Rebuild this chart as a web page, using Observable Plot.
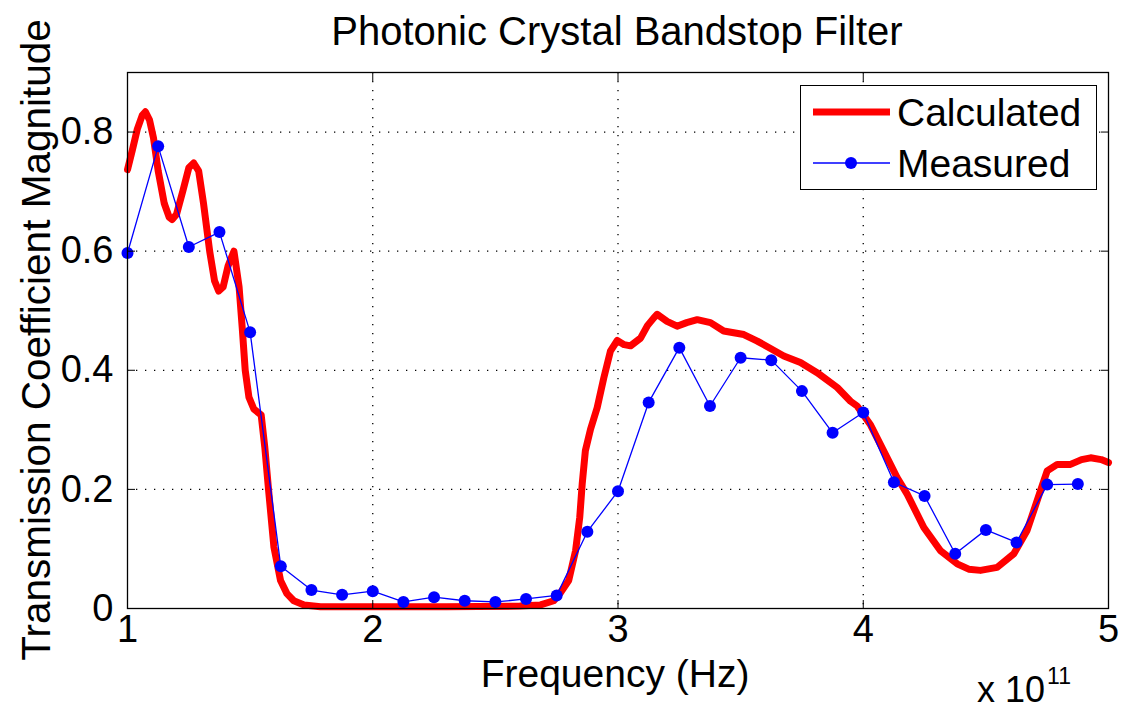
<!DOCTYPE html>
<html><head><meta charset="utf-8">
<script src="https://cdn.jsdelivr.net/npm/d3@7"></script>
<script src="https://cdn.jsdelivr.net/npm/@observablehq/plot@0.6"></script>
<style>
body{margin:0;background:#fff;font-family:"Liberation Sans",Arial,Helvetica,sans-serif}
#wrap{position:relative;width:1122px;height:711px;overflow:hidden}
.t{position:absolute;white-space:nowrap;color:#000;line-height:1}
</style></head>
<body><div id="wrap"></div>
<script>
const chartTitle = "Photonic Crystal Bandstop Filter";
const xLabel = "Frequency (Hz)";
const yLabel = "Transmission Coefficient Magnitude";
const seriesNames = ["Calculated", "Measured"];
const xTicks = [1, 2, 3, 4, 5];
const yTicks = [0, 0.2, 0.4, 0.6, 0.8];

// Calculated (red) curve, frequency in units of 1e11 Hz
const calcX = [1.000,1.020,1.040,1.060,1.073,1.090,1.106,1.125,1.150,1.170,1.182,1.200,1.225,1.250,1.270,1.290,1.310,1.335,1.355,1.372,1.390,1.410,1.434,1.455,1.468,1.480,1.495,1.515,1.545,1.560,1.575,1.597,1.624,1.650,1.678,1.720,1.787,2.000,2.300,2.600,2.684,2.738,2.766,2.799,2.827,2.844,2.854,2.867,2.888,2.915,2.942,2.969,2.997,3.025,3.051,3.092,3.120,3.146,3.160,3.200,3.241,3.280,3.323,3.377,3.431,3.513,3.568,3.620,3.676,3.744,3.812,3.894,3.948,3.975,4.030,4.111,4.138,4.179,4.247,4.315,4.383,4.430,4.478,4.546,4.614,4.668,4.709,4.750,4.791,4.845,4.890,4.927,4.970,5.000];
const calcY = [0.737,0.770,0.805,0.828,0.834,0.820,0.790,0.735,0.680,0.657,0.653,0.662,0.700,0.740,0.748,0.735,0.680,0.600,0.550,0.533,0.540,0.575,0.600,0.540,0.470,0.400,0.355,0.335,0.325,0.270,0.200,0.103,0.047,0.025,0.013,0.006,0.003,0.003,0.003,0.004,0.006,0.013,0.027,0.047,0.097,0.153,0.209,0.265,0.301,0.337,0.387,0.432,0.450,0.443,0.441,0.454,0.475,0.488,0.494,0.482,0.474,0.480,0.485,0.480,0.466,0.460,0.449,0.437,0.424,0.413,0.396,0.371,0.348,0.340,0.308,0.242,0.220,0.192,0.136,0.097,0.075,0.066,0.064,0.069,0.092,0.131,0.181,0.231,0.242,0.242,0.250,0.253,0.250,0.245];

// Measured (blue) points
const measX = [1.000,1.125,1.250,1.375,1.500,1.625,1.750,1.875,2.000,2.125,2.250,2.375,2.500,2.625,2.750,2.875,3.000,3.125,3.250,3.375,3.500,3.625,3.750,3.875,4.000,4.125,4.250,4.375,4.500,4.625,4.750,4.875];
const measY = [0.597,0.776,0.607,0.632,0.464,0.071,0.031,0.023,0.029,0.011,0.019,0.013,0.011,0.016,0.022,0.129,0.197,0.346,0.438,0.340,0.421,0.417,0.365,0.295,0.329,0.212,0.189,0.092,0.132,0.111,0.208,0.209];

const calc = calcX.map((x, i) => ({x, y: calcY[i]}));
const meas = measX.map((x, i) => ({x, y: measY[i]}));

const grid = {stroke: "#000", strokeOpacity: 1, strokeWidth: 1.3, strokeDasharray: "1.3,7.7"};
const font = "Liberation Sans, Arial, Helvetica, sans-serif";

const chart = Plot.plot({
  width: 1122, height: 711,
  marginTop: 72, marginRight: 14, marginBottom: 103, marginLeft: 127,
  x: {domain: [1, 5]},
  y: {domain: [0, 0.9]},
  style: {fontFamily: font, background: "transparent", color: "#000"},
  marks: [
    Plot.gridX(xTicks.slice(1, -1), grid),
    Plot.gridY(yTicks.slice(1), grid),
    Plot.line(calc, {x: "x", y: "y", stroke: "#ff0000", strokeWidth: 7, strokeLinejoin: "round"}),
    Plot.line(meas, {x: "x", y: "y", stroke: "#0000ff", strokeWidth: 1.3}),
    Plot.dot(meas, {x: "x", y: "y", r: 6, fill: "#0000ff", stroke: "none"}),
    Plot.frame({stroke: "#000", strokeWidth: 1.3}),
    Plot.axisX(xTicks, {anchor: "bottom", tickSize: -8, tickPadding: 15, fontSize: 38, label: null, tickFormat: d => String(d)}),
    Plot.axisX(xTicks, {anchor: "top", tickSize: -8, text: null, label: null}),
    Plot.axisY(yTicks, {anchor: "left", tickSize: -8, tickPadding: 22, fontSize: 38, label: null, tickFormat: d => d === 0 ? "0" : d.toFixed(1)}),
    Plot.axisY(yTicks, {anchor: "right", tickSize: -8, text: null, label: null})
  ]
});

const wrap = document.getElementById("wrap");
wrap.appendChild(chart);

function addText(txt, css) {
  const d = document.createElement("div");
  d.className = "t";
  d.textContent = txt;
  Object.assign(d.style, css);
  wrap.appendChild(d);
  return d;
}
addText(chartTitle, {left: "617px", top: "31px", fontSize: "40px", transform: "translate(-50%,-50%)"});
addText(xLabel, {left: "615px", top: "673px", fontSize: "39px", transform: "translate(-50%,-50%)"});
addText(yLabel, {left: "36px", top: "340px", fontSize: "40.5px", transform: "translate(-50%,-50%) rotate(-90deg)"});
const ex = addText("x 10", {left: "977px", top: "672px", fontSize: "36px"});
const sup = document.createElement("span");
sup.textContent = "11";
Object.assign(sup.style, {fontSize: "23px", position: "relative", top: "-18px", marginLeft: "2px"});
ex.appendChild(sup);

// Legend
const leg = document.createElement("div");
Object.assign(leg.style, {position: "absolute", left: "800px", top: "85px", width: "297px", height: "105px",
  border: "1.3px solid #000", background: "#fff", boxSizing: "border-box"});
const ns = "http://www.w3.org/2000/svg";
const lsvg = document.createElementNS(ns, "svg");
lsvg.setAttribute("width", "297"); lsvg.setAttribute("height", "105");
lsvg.style.position = "absolute"; lsvg.style.left = "-1px"; lsvg.style.top = "-1px";
function el(name, attrs) { const e = document.createElementNS(ns, name); for (const k in attrs) e.setAttribute(k, attrs[k]); lsvg.appendChild(e); return e; }
const rowY = [27, 78];
el("line", {x1: 13, x2: 90, y1: rowY[0], y2: rowY[0], stroke: "#ff0000", "stroke-width": 7});
el("line", {x1: 13, x2: 90, y1: rowY[1], y2: rowY[1], stroke: "#0000ff", "stroke-width": 1.3});
el("circle", {cx: 51, cy: rowY[1], r: 6, fill: "#0000ff"});
seriesNames.forEach((n, i) => {
  const t = el("text", {x: 97, y: rowY[i], "font-size": 39, "font-family": font, dy: "0.36em", fill: "#000"});
  t.textContent = n;
});
leg.appendChild(lsvg);
wrap.appendChild(leg);
</script>
</body></html>
